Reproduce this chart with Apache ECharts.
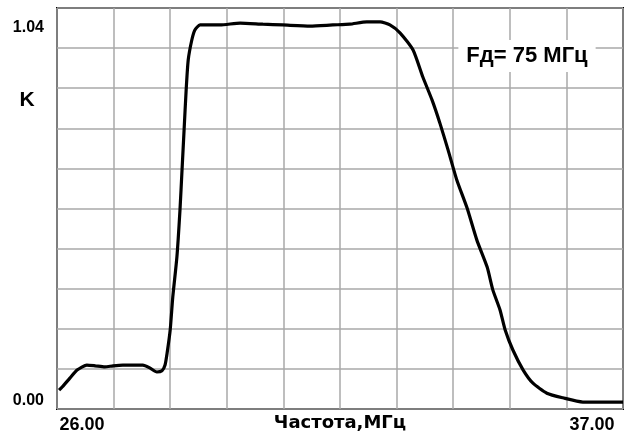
<!DOCTYPE html>
<html>
<head>
<meta charset="utf-8">
<script src="https://cdn.jsdelivr.net/npm/echarts@6/dist/echarts.min.js"></script>
<style>html,body{margin:0;padding:0;background:#fff;}#c{width:629px;height:437px;}</style>
</head>
<body>
<div id="c"></div>
<script>
// Frequency, MHz
const freq = [26.04,26.10,26.25,26.39,26.58,26.74,26.93,27.09,27.28,27.67,27.81,27.94,28.04,28.10,28.14,28.20,28.25,28.33,28.39,28.43,28.47,28.51,28.55,28.62,28.68,28.78,29.17,29.56,30.00,30.39,30.92,31.36,31.69,32.02,32.28,32.47,32.67,32.92,33.11,33.29,33.44,33.60,33.77,33.97,34.16,34.36,34.47,34.61,34.71,34.86,35.06,35.25,35.52,35.83,36.22,36.55,37.00];
// Gain K
const gain = [0.049,0.057,0.080,0.101,0.114,0.112,0.109,0.112,0.114,0.114,0.106,0.096,0.099,0.114,0.145,0.205,0.290,0.394,0.516,0.620,0.724,0.827,0.905,0.957,0.983,0.996,0.996,1.001,0.998,0.996,0.993,0.996,0.998,1.004,1.004,0.996,0.975,0.931,0.861,0.801,0.742,0.672,0.594,0.521,0.438,0.368,0.309,0.257,0.205,0.153,0.101,0.067,0.041,0.029,0.018,0.018,0.018];
const xMin = 26, xMax = 37;
const yMin = 0, yMax = 1.04;
const xTickLabels = ["26.00", "37.00"];
const yTickLabels = ["0.00", "1.04"];
const yName = "K";
const xName = "Частота,МГц";
const note = "Fд= 75 МГц";
const gridDivisions = 10;

const data = freq.map((f, i) => [f, gain[i]]);
const chart = echarts.init(document.getElementById('c'));
const numFont = '"Liberation Sans Narrow","Liberation Sans",Arial,sans-serif';
const gridLine = { show: true, lineStyle: { color: '#a8a8a8', width: 1.5 } };
chart.setOption({
  animation: false,
  backgroundColor: '#fff',
  grid: { left: 57, right: 6, top: 8, bottom: 28, show: true, borderColor: '#000', borderWidth: 2, backgroundColor: '#fff' },
  xAxis: [
    { type: 'value', min: xMin, max: xMax, axisLine: { show: false }, axisTick: { show: false }, axisLabel: { show: false }, splitLine: { show: false } },
    { type: 'value', min: 0, max: gridDivisions, interval: 1, position: 'bottom', axisLine: { show: false }, axisTick: { show: false }, axisLabel: { show: false }, splitLine: gridLine }
  ],
  yAxis: [
    { type: 'value', min: yMin, max: yMax, axisLine: { show: false }, axisTick: { show: false }, axisLabel: { show: false }, splitLine: { show: false } },
    { type: 'value', min: 0, max: gridDivisions, interval: 1, position: 'left', axisLine: { show: false }, axisTick: { show: false }, axisLabel: { show: false }, splitLine: gridLine }
  ],
  series: [{
    type: 'line', xAxisIndex: 0, yAxisIndex: 0, data: data, showSymbol: false, smooth: 0.2,
    lineStyle: { color: '#000', width: 3.2 }, z: 5
  }],
  graphic: [
    { type: 'text', x: 44, y: 28, style: { text: yTickLabels[1], font: 'bold 16px ' + numFont, fill: '#000', align: 'right', verticalAlign: 'middle' } },
    { type: 'text', x: 44, y: 401, style: { text: yTickLabels[0], font: 'bold 16px ' + numFont, fill: '#000', align: 'right', verticalAlign: 'middle' } },
    { type: 'text', x: 82, y: 425, style: { text: xTickLabels[0], font: 'bold 18px ' + numFont, fill: '#000', align: 'center', verticalAlign: 'middle' } },
    { type: 'text', x: 592, y: 425, style: { text: xTickLabels[1], font: 'bold 18px ' + numFont, fill: '#000', align: 'center', verticalAlign: 'middle' } },
    { type: 'text', x: 27, y: 100, style: { text: yName, font: 'bold 21px "Liberation Sans",Arial,sans-serif', fill: '#000', align: 'center', verticalAlign: 'middle' } },
    { type: 'text', x: 340, y: 423, style: { text: xName, font: 'bold 18px "DejaVu Sans",sans-serif', fill: '#000', align: 'center', verticalAlign: 'middle' } },
    { type: 'text', x: 527, y: 56, z: 10, style: { text: note, font: 'bold 22px "Liberation Sans",Arial,sans-serif', fill: '#000', align: 'center', verticalAlign: 'middle', backgroundColor: '#fff', padding: [5, 8] } }
  ]
});
</script>
</body>
</html>
